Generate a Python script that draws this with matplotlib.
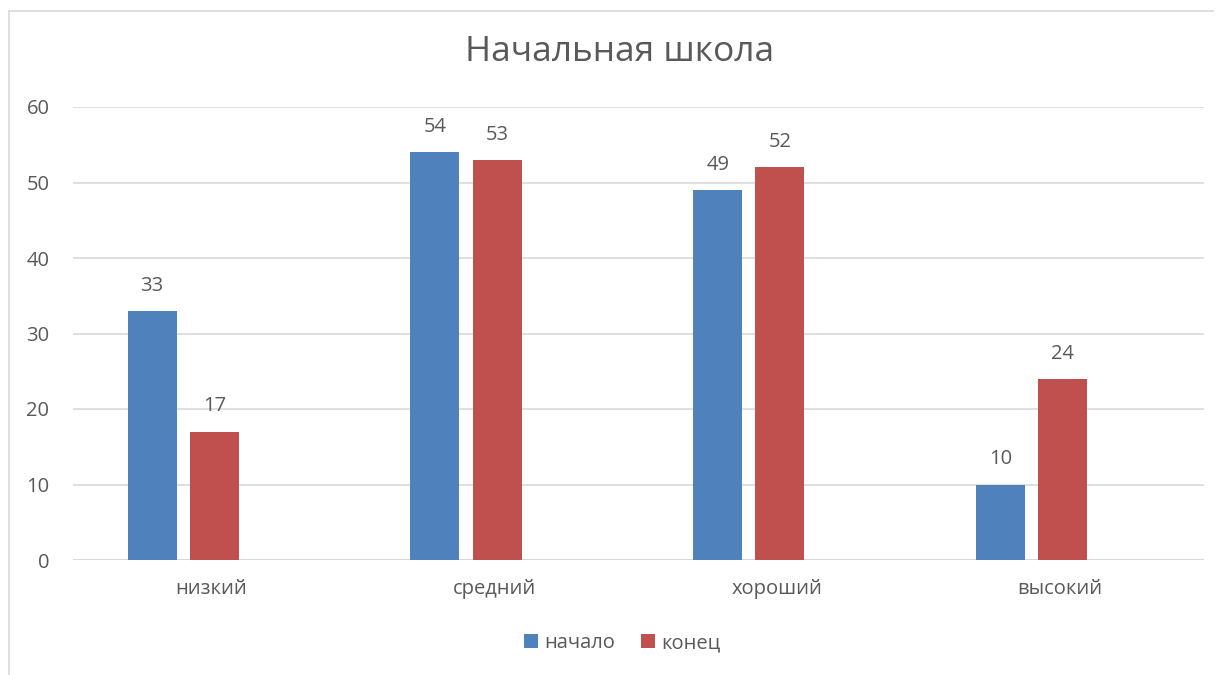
import matplotlib
matplotlib.use("Agg")
import matplotlib.pyplot as plt
from matplotlib.lines import Line2D
from matplotlib.patches import Patch
import numpy as np

categories = ["низкий", "средний", "хороший", "высокий"]
start_vals = [33, 54, 49, 10]
end_vals = [17, 53, 52, 24]
series_names = ["начало", "конец"]
yticks = [0, 10, 20, 30, 40, 50, 60]

plt.rcParams['font.family'] = ['Open Sans', 'DejaVu Sans']
TXT = "#595959"
BLUE = "#4F81BD"
RED = "#C0504D"

W, H = 1221, 675
fig = plt.figure(figsize=(W/100, H/100), dpi=100)
ax = fig.add_axes([73/W, 1-560/H, (1204-73)/W, (560-107)/H])

x = np.arange(len(categories))
bw = 0.173
b1 = ax.bar(x - 0.22, start_vals, bw, color=BLUE, zorder=3)
b2 = ax.bar(x + 0.0, end_vals, bw, color=RED, zorder=3)
for bars, vals in ((b1, start_vals), (b2, end_vals)):
    for r, v in zip(bars, vals):
        ax.annotate(str(v), (r.get_x() + r.get_width()/2, v), xytext=(0, 11),
                    textcoords="offset points", ha="center", va="bottom",
                    fontsize=14.5, color=TXT)

ax.set_xlim(-0.5, 3.5)
ax.set_ylim(0, 60)
ax.set_yticks(yticks)
ax.set_xticks(x - 0.01)
ax.set_xticklabels(categories)
ax.tick_params(axis='both', length=0, labelsize=14.5, colors=TXT)
ax.tick_params(axis='x', pad=14)
ax.tick_params(axis='y', pad=17)
ax.grid(axis='y', color="#D9D9D9", linewidth=1.2, zorder=0)
for s in ax.spines.values():
    s.set_visible(False)
ax.axhline(0, color="#D9D9D9", linewidth=1.5, zorder=2)

fig.text(620/W, 1-52/H, "Начальная школа", ha="center", va="center", fontsize=25.5, color=TXT)

handles = [Patch(facecolor=BLUE, label=series_names[0]), Patch(facecolor=RED, label=series_names[1])]
fig.legend(handles=handles, loc="center", bbox_to_anchor=(622/W, 1-643/H), ncol=2, frameon=False,
           fontsize=14.5, labelcolor=TXT, handlelength=0.7, handleheight=0.7, handletextpad=0.3, columnspacing=1.3)

# chart frame (left and top edges visible)
fig.add_artist(Line2D([9/W, 9/W], [0, 1-11/H], transform=fig.transFigure, color="#D9D9D9", linewidth=1.2))
fig.add_artist(Line2D([9/W, 1213/W], [1-11/H, 1-11/H], transform=fig.transFigure, color="#D9D9D9", linewidth=1.2))

fig.savefig("out.png", dpi=100)
